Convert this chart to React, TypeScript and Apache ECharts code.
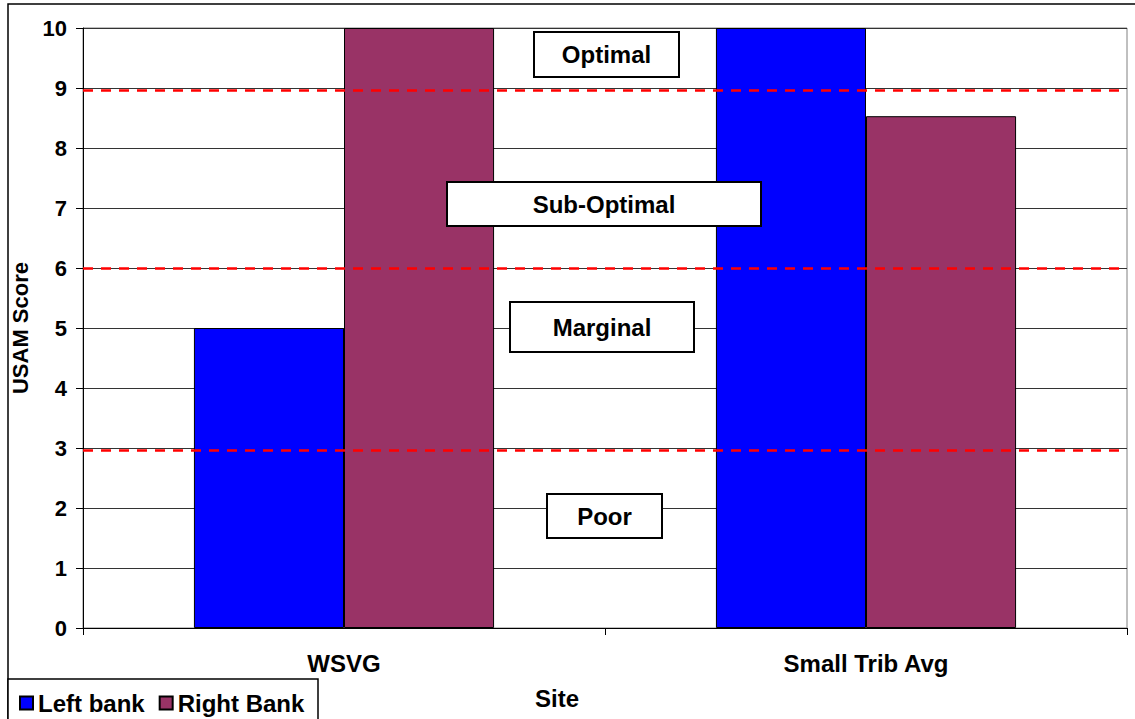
import React, { useEffect, useRef } from "react";
import * as echarts from "echarts";

const categories = ["WSVG", "Small Trib Avg"];
const leftBank = [5, 10];
const rightBank = [10, 8.53];
const thresholds = [8.96, 5.99, 2.96];
const yTicks = { min: 0, max: 10, interval: 1 };
const bandLabels = [
  { text: "Optimal", x: 534, y: 32, w: 145, h: 45 },
  { text: "Sub-Optimal", x: 447, y: 182, w: 314, h: 44 },
  { text: "Marginal", x: 510, y: 302, w: 184, h: 50 },
  { text: "Poor", x: 547, y: 494, w: 115, h: 44 },
];

const FONT = "Liberation Sans, Arial, sans-serif";

export default function App() {
  const ref = useRef<HTMLDivElement>(null);
  useEffect(() => {
    if (!ref.current) return;
    const chart = echarts.init(ref.current, undefined, { renderer: "svg" });
    const boxes: any[] = [];
    bandLabels.forEach((b) => {
      boxes.push({
        type: "rect",
        z: 100,
        shape: { x: b.x, y: b.y, width: b.w, height: b.h },
        style: { fill: "#fff", stroke: "#000", lineWidth: 2 },
        silent: true,
      });
      boxes.push({
        type: "text",
        z: 101,
        x: b.x + b.w / 2,
        y: b.y + b.h / 2,
        style: {
          text: b.text,
          font: `bold 24px ${FONT}`,
          fill: "#000",
          align: "center",
          verticalAlign: "middle",
          textAlign: "center",
          textVerticalAlign: "middle",
        },
        silent: true,
      });
    });
    const option: any = {
      animation: false,
      backgroundColor: "#ffffff",
      textStyle: { fontFamily: FONT },
      grid: { left: 83, right: 8, top: 28, bottom: 91, show: true, borderColor: "#808080", borderWidth: 1 },
      legend: {
        data: ["Left bank", "Right Bank"],
        left: 14,
        top: 686,
        z: 200,
        itemWidth: 13,
        itemHeight: 13,
        itemGap: 14,
        icon: "rect",
        textStyle: { fontSize: 24, fontWeight: "bold", color: "#000", fontFamily: FONT },
      },
      xAxis: {
        type: "category",
        data: categories,
        name: "Site",
        nameLocation: "middle",
        nameGap: 58,
        nameTextStyle: { fontSize: 24, fontWeight: "bold", color: "#000", padding: [0, 96, 0, 0], fontFamily: FONT },
        axisLine: { lineStyle: { color: "#000", width: 1 } },
        axisTick: { show: true, length: 7, lineStyle: { color: "#000" } },
        axisLabel: { fontSize: 24, fontWeight: "bold", color: "#000", margin: 23, fontFamily: FONT },
      },
      yAxis: {
        type: "value",
        min: yTicks.min,
        max: yTicks.max,
        interval: yTicks.interval,
        name: "USAM Score",
        nameLocation: "middle",
        nameGap: 42,
        nameTextStyle: { fontSize: 22, fontWeight: "bold", color: "#000", fontFamily: FONT },
        axisLine: { show: true, lineStyle: { color: "#000", width: 1 } },
        axisTick: { show: true, length: 7, lineStyle: { color: "#000" } },
        axisLabel: { fontSize: 22, fontWeight: "bold", color: "#000", margin: 16, fontFamily: FONT },
        splitLine: { show: true, lineStyle: { color: "#333", width: 1 } },
      },
      series: [
        {
          name: "Left bank",
          type: "bar",
          data: leftBank,
          barGap: "0%",
          barCategoryGap: "42.5%",
          itemStyle: { color: "#0000FF", borderColor: "#000", borderWidth: 1 },
        },
        {
          name: "Right Bank",
          type: "bar",
          data: rightBank,
          barGap: "0%",
          barCategoryGap: "42.5%",
          itemStyle: { color: "#993366", borderColor: "#000", borderWidth: 1 },
        },
        {
          name: "thresholds",
          type: "line",
          data: [],
          z: 10,
          markLine: {
            silent: true,
            symbol: "none",
            label: { show: false },
            lineStyle: { color: "#FF0000", type: [10, 8], width: 2.5 },
            data: thresholds.map((v) => ({ yAxis: v })),
          },
        },
      ],
      graphic: [
        {
          type: "rect",
          z: 0,
          shape: { x: 8, y: 4, width: 1140, height: 730 },
          style: { fill: "none", stroke: "#000", lineWidth: 1.5 },
          silent: true,
        },
        {
          type: "rect",
          z: 0,
          shape: { x: 8, y: 679, width: 310, height: 50 },
          style: { fill: "#fff", stroke: "#000", lineWidth: 1.5 },
          silent: true,
        },
        ...boxes,
      ],
    };
    chart.setOption(option);
    return () => chart.dispose();
  }, []);
  return (
    <div
      ref={ref}
      style={{ position: "fixed", left: 0, top: 0, width: 1135, height: 719 }}
    />
  );
}
